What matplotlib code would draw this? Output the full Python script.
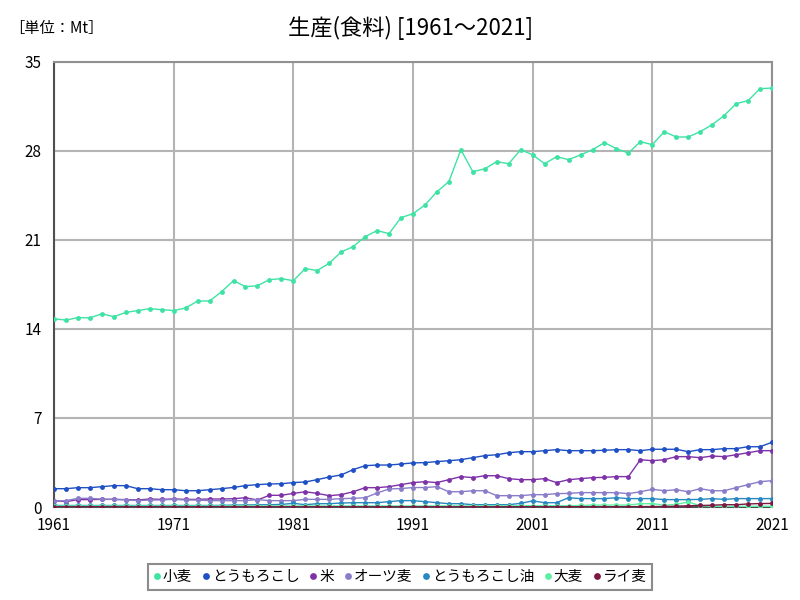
import matplotlib
matplotlib.use("Agg")
import matplotlib.pyplot as plt
import numpy as np

plt.rcParams['font.family'] = ['Noto Sans CJK JP', 'DejaVu Sans']

years = list(range(1961, 2022))

wheat = [14.8, 14.7, 14.9, 14.87, 15.2, 14.97, 15.3, 15.45, 15.6, 15.52,
         15.45, 15.65, 16.2, 16.2, 16.93, 17.8, 17.33, 17.4, 17.88, 17.96,
         17.8, 18.75, 18.6, 19.17, 20.06, 20.48, 21.26, 21.74, 21.5, 22.76,
         23.07, 23.75, 24.8, 25.59, 28.1, 26.37, 26.6, 27.16, 27.0, 28.1,
         27.7, 27.0, 27.55, 27.32, 27.69, 28.1, 28.66, 28.18, 27.84, 28.73,
         28.5, 29.52, 29.1, 29.1, 29.52, 30.07, 30.78, 31.72, 31.96, 32.9,
         32.95]

maize = [1.44, 1.44, 1.52, 1.52, 1.6, 1.68, 1.68, 1.44, 1.44, 1.36,
         1.36, 1.28, 1.28, 1.36, 1.44, 1.54, 1.68, 1.76, 1.81, 1.83,
         1.92, 1.97, 2.15, 2.36, 2.52, 2.94, 3.25, 3.3, 3.3, 3.38,
         3.47, 3.49, 3.57, 3.64, 3.72, 3.88, 4.04, 4.11, 4.27, 4.35,
         4.35, 4.43, 4.51, 4.43, 4.43, 4.43, 4.46, 4.51, 4.51, 4.43,
         4.54, 4.54, 4.54, 4.35, 4.51, 4.51, 4.59, 4.59, 4.74, 4.74,
         5.09]

rice = [0.5, 0.42, 0.58, 0.58, 0.6, 0.6, 0.58, 0.55, 0.63, 0.6,
        0.63, 0.6, 0.6, 0.63, 0.63, 0.65, 0.73, 0.55, 0.92, 0.92,
        1.07, 1.2, 1.07, 0.89, 0.97, 1.2, 1.52, 1.52, 1.6, 1.76,
        1.92, 1.99, 1.92, 2.15, 2.39, 2.31, 2.46, 2.46, 2.23, 2.15,
        2.15, 2.23, 1.92, 2.15, 2.23, 2.31, 2.33, 2.39, 2.39, 3.72,
        3.64, 3.72, 3.96, 3.96, 3.88, 4.01, 3.96, 4.11, 4.27, 4.43,
        4.43]

oats = [0.45, 0.5, 0.68, 0.68, 0.62, 0.6, 0.56, 0.5, 0.55, 0.55,
        0.6, 0.55, 0.55, 0.5, 0.5, 0.5, 0.5, 0.58, 0.5, 0.5,
        0.5, 0.6, 0.6, 0.6, 0.66, 0.68, 0.73, 1.1, 1.42, 1.45,
        1.53, 1.53, 1.6, 1.2, 1.2, 1.28, 1.28, 0.89, 0.89, 0.89,
        0.97, 0.97, 1.05, 1.07, 1.13, 1.13, 1.13, 1.13, 1.05, 1.2,
        1.39, 1.28, 1.36, 1.2, 1.44, 1.28, 1.28, 1.52, 1.76, 1.99,
        2.07]

corn_oil = [0.12, 0.12, 0.12, 0.12, 0.12, 0.12, 0.12, 0.12, 0.12, 0.12,
            0.12, 0.12, 0.12, 0.12, 0.13, 0.15, 0.16, 0.17, 0.18, 0.2,
            0.29, 0.18, 0.26, 0.26, 0.31, 0.34, 0.34, 0.34, 0.42, 0.5,
            0.5, 0.42, 0.34, 0.26, 0.26, 0.18, 0.18, 0.18, 0.18, 0.29,
            0.48, 0.34, 0.34, 0.73, 0.66, 0.66, 0.66, 0.73, 0.66, 0.66,
            0.66, 0.58, 0.58, 0.58, 0.6, 0.66, 0.6, 0.66, 0.66, 0.66,
            0.66]

barley = [0.08, 0.08, 0.08, 0.08, 0.08, 0.08, 0.08, 0.08, 0.08, 0.08,
          0.08, 0.08, 0.08, 0.08, 0.08, 0.08, 0.08, 0.08, 0.08, 0.08,
          0.08, 0.08, 0.08, 0.08, 0.08, 0.08, 0.08, 0.08, 0.08, 0.08,
          0.08, 0.08, 0.08, 0.08, 0.08, 0.08, 0.08, 0.08, 0.08, 0.1,
          0.1, 0.1, 0.1, 0.1, 0.12, 0.15, 0.15, 0.15, 0.15, 0.26,
          0.26, 0.15, 0.2, 0.4, 0.1, 0.06, 0.05, 0.05, 0.05, 0.05,
          0.05]

rye = [0.02, 0.02, 0.02, 0.02, 0.02, 0.02, 0.02, 0.02, 0.02, 0.02,
       0.02, 0.02, 0.02, 0.02, 0.02, 0.02, 0.02, 0.02, 0.02, 0.02,
       0.02, 0.02, 0.02, 0.02, 0.02, 0.02, 0.02, 0.02, 0.02, 0.02,
       0.02, 0.02, 0.02, 0.02, 0.02, 0.02, 0.02, 0.02, 0.02, 0.02,
       0.02, 0.02, 0.02, 0.02, 0.02, 0.02, 0.02, 0.02, 0.02, 0.03,
       0.03, 0.04, 0.06, 0.1, 0.12, 0.14, 0.18, 0.18, 0.24, 0.27,
       0.28]

series = [
    ("小麦", wheat, "#3ee3a4"),
    ("とうもろこし", maize, "#1f4fc4"),
    ("米", rice, "#7e32a8"),
    ("オーツ麦", oats, "#8a7cc8"),
    ("とうもろこし油", corn_oil, "#2a88c0"),
    ("大麦", barley, "#5ef0a2"),
    ("ライ麦", rye, "#7a1a44"),
]

xticks = [1961, 1971, 1981, 1991, 2001, 2011, 2021]
yticks = [0, 7, 14, 21, 28, 35]

fig = plt.figure(figsize=(8, 6), dpi=100)
ax = fig.add_axes([0.0675, 0.155, 0.8975, 0.7417])

for name, vals, col in series:
    ax.plot(years, vals, color=col, lw=1.0, marker='o', ms=3.5,
            markeredgewidth=0, label=name, zorder=3)

ax.set_xlim(1961, 2021)
ax.set_ylim(0, 35)
ax.set_xticks(xticks)
ax.set_yticks(yticks)
ax.tick_params(axis='y', length=0, labelsize=11, pad=9)
ax.tick_params(axis='x', length=0, labelsize=11, pad=7)
ax.grid(True, color='#b4b4b4', lw=1.5, zorder=0)
for s in ['top', 'right']:
    ax.spines[s].set_color('#909090')
    ax.spines[s].set_linewidth(1.5)
for s in ['left', 'bottom']:
    ax.spines[s].set_color('#505050')
    ax.spines[s].set_linewidth(1.5)

fig.text(0.513, 0.953, "生産(食料) [1961～2021]", ha='center', va='center', fontsize=16)
fig.text(0.012, 0.953, "［単位：Mt］", ha='left', va='center', fontsize=11)

leg = fig.legend(loc='center', bbox_to_anchor=(0.5, 0.038), ncol=7,
                 frameon=True, fancybox=False, fontsize=10.5, handlelength=0.5,
                 handletextpad=0.15, columnspacing=0.7, borderpad=0.4,
                 markerscale=1.4)
for h in leg.legend_handles:
    h.set_linestyle('none')
leg.get_frame().set_edgecolor('#707070')
leg.get_frame().set_linewidth(1.5)

fig.savefig("out.png", dpi=100)
